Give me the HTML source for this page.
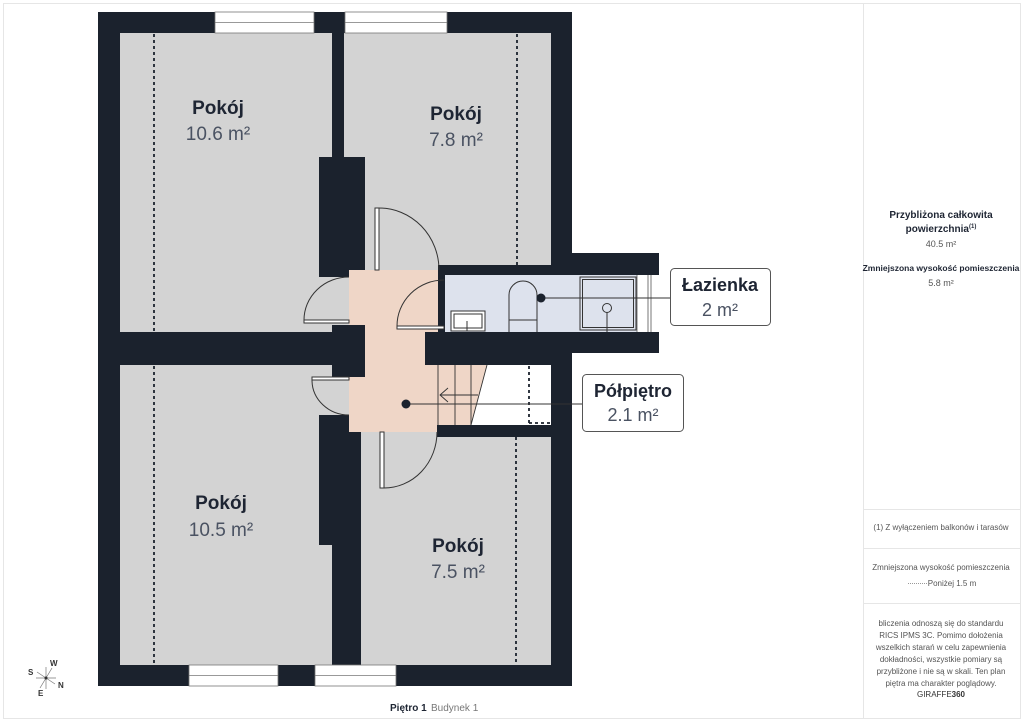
<!DOCTYPE html>
<html><head><meta charset="utf-8"><style>
html,body{margin:0;padding:0;background:#fff;}
svg{display:block;font-family:"Liberation Sans",sans-serif;}
</style></head><body>
<svg width="1024" height="724" viewBox="0 0 1024 724" xmlns="http://www.w3.org/2000/svg">
<rect x="3.5" y="3.5" width="1017" height="715" fill="#fff" stroke="#e6e6e6"/>
<line x1="863.5" y1="3" x2="863.5" y2="719" stroke="#e6e6e6"/>
<line x1="864" y1="509.5" x2="1021" y2="509.5" stroke="#e6e6e6"/>
<line x1="864" y1="548.5" x2="1021" y2="548.5" stroke="#e6e6e6"/>
<line x1="864" y1="603.5" x2="1021" y2="603.5" stroke="#e6e6e6"/>

<rect x="98" y="12" width="474" height="674" fill="#1b222d"/>
<rect x="438" y="253" width="221" height="100" fill="#1b222d"/>
<rect x="120" y="33" width="212" height="299" fill="#d3d3d3"/>
<rect x="344" y="33" width="207" height="232" fill="#d3d3d3"/>
<rect x="120" y="365" width="212" height="300" fill="#d3d3d3"/>
<rect x="361" y="437" width="190" height="228" fill="#d3d3d3"/>
<rect x="365" y="157" width="186" height="108" fill="#d3d3d3"/>
<rect x="319" y="157" width="46" height="120" fill="#1b222d"/>
<rect x="319" y="415" width="42" height="130" fill="#1b222d"/>
<rect x="304" y="277" width="45" height="48" fill="#d3d3d3"/>
<rect x="312" y="377" width="37" height="38" fill="#d3d3d3"/>
<rect x="365" y="208" width="73" height="62" fill="#d3d3d3"/>
<rect x="361" y="432" width="76" height="60" fill="#d3d3d3"/>
<rect x="349" y="270" width="89" height="162" fill="#efd6c7"/>
<rect x="332" y="325" width="33" height="52" fill="#1b222d"/>
<rect x="349" y="415" width="12" height="17" fill="#efd6c7"/>
<rect x="425" y="332" width="126" height="33" fill="#1b222d"/>
<rect x="445" y="275" width="192" height="57" fill="#dde2ed"/>
<rect x="637" y="275" width="22" height="57" fill="#fff"/>
<line x1="637" y1="275" x2="637" y2="332" stroke="#555" stroke-width="0.8"/>
<line x1="648" y1="275" x2="648" y2="332" stroke="#555" stroke-width="0.8"/>
<line x1="651" y1="275" x2="651" y2="332" stroke="#555" stroke-width="0.8"/>
<rect x="438" y="365" width="113" height="60" fill="#fff"/>
<polygon points="438,365 487,365 471,425 438,425" fill="#efd6c7"/>
<rect x="437" y="425" width="114" height="12" fill="#1b222d"/>
<g stroke="#333" stroke-width="0.9" fill="none">
<line x1="438" y1="365" x2="438" y2="425"/>
<line x1="455" y1="365" x2="455" y2="425"/>
<line x1="471" y1="365" x2="471" y2="425"/>
<line x1="487" y1="365" x2="471" y2="425"/>
<line x1="440" y1="395" x2="478" y2="395"/>
<polyline points="448,388 440,395 448,402"/>
</g>
<g stroke="#1b222d" stroke-width="1.8" stroke-dasharray="3,3">
<line x1="529" y1="366" x2="529" y2="424"/>
<line x1="529" y1="423" x2="551" y2="423"/>
<line x1="154" y1="34" x2="154" y2="332"/>
<line x1="517" y1="34" x2="517" y2="265"/>
<line x1="154" y1="366" x2="154" y2="665"/>
<line x1="516" y1="437" x2="516" y2="665"/>
</g>
<g fill="#fff" stroke="#777" stroke-width="0.8">
<rect x="215" y="12" width="99" height="21"/><line x1="215" y1="22.5" x2="314" y2="22.5"/>
<rect x="345" y="12" width="102" height="21"/><line x1="345" y1="22.5" x2="447" y2="22.5"/>
<rect x="189" y="665" width="89" height="21"/><line x1="189" y1="675.5" x2="278" y2="675.5"/>
<rect x="315" y="665" width="81" height="21"/><line x1="315" y1="675.5" x2="396" y2="675.5"/>
</g>
<g stroke="#333" stroke-width="1" fill="none">
<rect x="375" y="208" width="4" height="62" fill="#fff"/>
<path d="M379,208 A60,62 0 0 1 439,270"/>
<rect x="304" y="320" width="45" height="3" fill="#fff"/>
<path d="M304,320 A45,43 0 0 1 349,277"/>
<rect x="397" y="326" width="47" height="3" fill="#fff"/>
<path d="M397,326 A47,46 0 0 1 444,280"/>
<rect x="312" y="377" width="37" height="3" fill="#fff"/>
<path d="M312,380 A37,35 0 0 0 349,415"/>
<rect x="380" y="432" width="4" height="56" fill="#fff"/>
<path d="M384,488 A53,56 0 0 0 437,432"/>
<rect x="451" y="311" width="34" height="20" fill="#fff"/>
<rect x="454" y="314" width="28" height="14"/>
<line x1="467" y1="321" x2="467" y2="331"/>
<path d="M509,332 V295 A14,14 0 0 1 537,295 V332"/>
<line x1="509" y1="320" x2="537" y2="320"/>
<rect x="580" y="277" width="56" height="53"/>
<rect x="582.5" y="279.5" width="51" height="48"/>
<circle cx="607" cy="308" r="4.5"/>
<line x1="607" y1="312" x2="607" y2="332"/>
</g>
<g stroke="#333" stroke-width="0.9">
<line x1="541" y1="298" x2="670" y2="298"/>
<line x1="406" y1="404" x2="582" y2="404"/>
</g>
<circle cx="541" cy="298" r="4.5" fill="#1b222d"/>
<circle cx="406" cy="404" r="4.5" fill="#1b222d"/>
<rect x="670.5" y="268.5" width="100" height="57" rx="4" fill="#fff" stroke="#555"/>
<rect x="582.5" y="374.5" width="101" height="57" rx="4" fill="#fff" stroke="#555"/>
<g text-anchor="middle">
<text x="720" y="291" font-size="18" font-weight="bold" fill="#1e2533">Łazienka</text>
<text x="720" y="316" font-size="18" fill="#4a5262">2 m²</text>
<text x="633" y="397" font-size="18" font-weight="bold" fill="#1e2533">Półpiętro</text>
<text x="633" y="421" font-size="18" fill="#4a5262">2.1 m²</text>
<g font-size="19">
<text x="218" y="114" font-weight="bold" fill="#1e2533">Pokój</text>
<text x="218" y="140" fill="#4a5262">10.6 m²</text>
<text x="456" y="120" font-weight="bold" fill="#1e2533">Pokój</text>
<text x="456" y="146" fill="#4a5262">7.8 m²</text>
<text x="221" y="509" font-weight="bold" fill="#1e2533">Pokój</text>
<text x="221" y="536" fill="#4a5262">10.5 m²</text>
<text x="458" y="552" font-weight="bold" fill="#1e2533">Pokój</text>
<text x="458" y="578" fill="#4a5262">7.5 m²</text>
</g>
<text x="941" y="218" font-size="10" font-weight="bold" fill="#1e2533">Przybliżona całkowita</text>
<text x="941" y="232" font-size="10" font-weight="bold" fill="#1e2533">powierzchnia<tspan font-size="6" dy="-4">(1)</tspan></text>
<text x="941" y="247" font-size="9" fill="#555">40.5 m²</text>
<text x="941" y="271" font-size="8.5" font-weight="bold" fill="#1e2533">Zmniejszona wysokość pomieszczenia</text>
<text x="941" y="286" font-size="9" fill="#555">5.8 m²</text>
<text x="941" y="530" font-size="8" fill="#555">(1) Z wyłączeniem balkonów i tarasów</text>
<text x="941" y="570" font-size="8" fill="#555">Zmniejszona wysokość pomieszczenia</text>
<text x="952" y="586" font-size="8" fill="#555">Poniżej 1.5 m</text>
<text x="941" y="626" font-size="8" fill="#555">bliczenia odnoszą się do standardu</text>
<text x="941" y="638" font-size="8" fill="#555">RICS IPMS 3C. Pomimo dołożenia</text>
<text x="941" y="650" font-size="8" fill="#555">wszelkich starań w celu zapewnienia</text>
<text x="941" y="662" font-size="8" fill="#555">dokładności, wszystkie pomiary są</text>
<text x="941" y="674" font-size="8" fill="#555">przybliżone i nie są w skali. Ten plan</text>
<text x="941" y="686" font-size="8" fill="#555">piętra ma charakter poglądowy.</text>
<text x="941" y="697" font-size="8" fill="#333">GIRAFFE<tspan font-weight="bold">360</tspan></text>
</g>
<line x1="908" y1="583.5" x2="928" y2="583.5" stroke="#999" stroke-dasharray="1,1"/>
<text x="390" y="711" font-size="10" font-weight="bold" fill="#1e2533">Piętro 1</text>
<text x="431" y="711" font-size="10" fill="#777">Budynek 1</text>
<g stroke="#777" stroke-width="0.7">
<line x1="37" y1="672" x2="55" y2="684"/>
<line x1="52" y1="668" x2="40" y2="688"/>
<line x1="36" y1="678" x2="56" y2="678"/>
<line x1="46" y1="667" x2="46" y2="689"/>
</g>
<circle cx="46" cy="678" r="1.5" fill="#333"/>
<g font-size="8" font-weight="bold" fill="#333">
<text x="50" y="666">W</text><text x="28" y="675">S</text><text x="58" y="688">N</text><text x="38" y="696">E</text>
</g>
</svg>
</body></html>
